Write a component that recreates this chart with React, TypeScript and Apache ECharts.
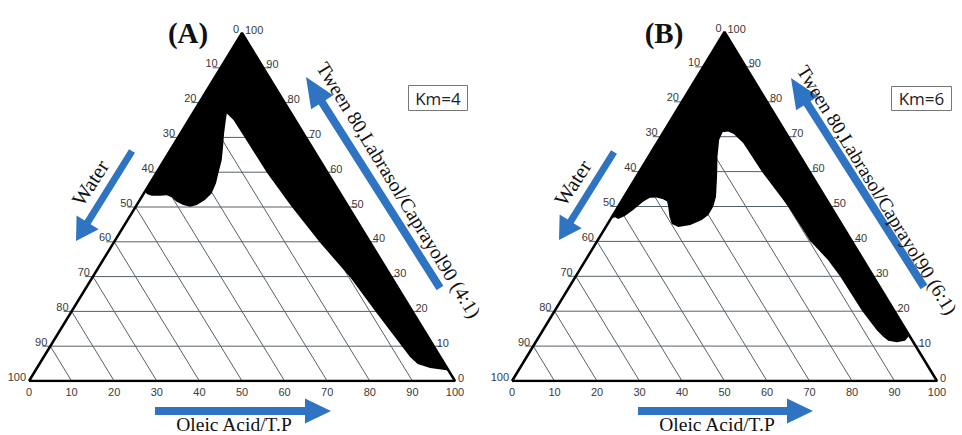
import React, { useEffect, useRef } from "react";
import * as echarts from "echarts";

// Ternary axis ticks (percent)
const ticks = [0, 10, 20, 30, 40, 50, 60, 70, 80, 90, 100];
const innerTicks = [10, 20, 30, 40, 50, 60, 70, 80, 90];

// Triangle corners as [oleic %, Smix %] (water = 100 - oleic - Smix)
const corners: [number, number][] = [[0, 0], [100, 0], [0, 100], [0, 0]];

// Nanoemulsion (black) region boundary, [oleic %, Smix %], Km = 4
const regionA: [number, number][] = [
  [0, 100], [97, 3], [95.6, 3.2], [92.3, 3.7], [88.8, 4.9], [86.0, 6.9], [83.1, 9.5],
  [71.2, 20.1], [60.4, 29.9], [48.5, 39.7], [36.7, 50.0], [26.0, 59.8], [15.8, 69.8],
  [10.5, 75.0], [8.0, 76.9], [8.7, 75.0], [10.2, 71.2], [11.9, 67.3], [13.5, 63.5],
  [14.6, 59.7], [15.5, 56.8], [15.9, 53.9], [15.3, 52.0], [14.1, 50.6], [12.8, 50.1],
  [10.9, 50.6], [8.9, 51.5], [7.1, 52.8], [5.6, 53.4], [4.2, 53.2], [2.2, 53.2],
  [0.8, 53.7], [0, 54.5],
];

// Nanoemulsion (black) region boundary, [oleic %, Smix %], Km = 6
const regionB: [number, number][] = [
  [0, 100], [87, 13], [86.7, 11.5], [85.0, 11.1], [82.8, 11.5], [81.0, 12.7], [78.5, 14.6],
  [72.3, 20.1], [62.1, 30.1], [57.0, 34.7], [50.1, 40.1], [39.9, 50.1], [28.9, 59.9],
  [20.3, 68.2], [16.8, 70.8], [15.1, 71.5], [13.9, 71.3], [14.2, 69.1], [16.2, 64.3],
  [19.0, 58.5], [21.6, 52.8], [22.4, 49.9], [22.4, 47.6], [21.6, 46.1], [19.6, 44.7],
  [17.1, 44.1], [15.1, 45.0], [13.5, 47.1], [11.8, 49.9], [10.8, 51.4], [9.5, 52.1],
  [7.7, 52.6], [6.2, 52.5], [5.2, 51.4], [4.0, 49.0], [2.9, 47.3], [1.8, 46.4],
  [0.8, 46.9], [0, 46.5],
];

const panelTitles = ["(A)", "(B)"];
const kmLabels = ["Km=4", "Km=6"];
const smixNames = ["Tween 80,Labrasol/Caprayol90 (4:1)", "Tween 80,Labrasol/Caprayol90 (6:1)"];
const waterName = "Water";
const oilName = "Oleic Acid/T.P";

const toXY = (o: number, s: number) => [o + s / 2, s];

const BLUE = "#2e74c3";
const GRID_COLOR = "#56606b";
const LABEL_COLOR = "#3a3a3a";
const TICK_FONT = "11px 'Liberation Sans', Arial, sans-serif";
const SERIF = "'Liberation Serif', 'Times New Roman', serif";

function arrow(x1: number, y1: number, x2: number, y2: number, sw: number, hl: number, hw: number) {
  const dx = x2 - x1, dy = y2 - y1;
  const len = Math.hypot(dx, dy);
  const ux = dx / len, uy = dy / len;
  const nx = -uy, ny = ux;
  const bx = x2 - ux * hl, by = y2 - uy * hl;
  return {
    type: "polygon",
    shape: {
      points: [
        [x1 + (nx * sw) / 2, y1 + (ny * sw) / 2],
        [bx + (nx * sw) / 2, by + (ny * sw) / 2],
        [bx + (nx * hw) / 2, by + (ny * hw) / 2],
        [x2, y2],
        [bx - (nx * hw) / 2, by - (ny * hw) / 2],
        [bx - (nx * sw) / 2, by - (ny * sw) / 2],
        [x1 - (nx * sw) / 2, y1 - (ny * sw) / 2],
      ],
    },
    style: { fill: BLUE },
    z: 10,
  };
}

function text(t: string, x: number, y: number, font: string, rotationDeg = 0, fill = "#111") {
  return {
    type: "text",
    x,
    y,
    rotation: (rotationDeg * Math.PI) / 180,
    style: {
      text: t,
      font,
      fill,
      align: "center",
      verticalAlign: "middle",
      textAlign: "center",
      textVerticalAlign: "middle",
    },
    z: 11,
  };
}

function panelSeries(i: number, region: [number, number][]) {
  const regionXY = region.map((p) => toXY(p[0], p[1]));
  return [
    {
      type: "custom",
      xAxisIndex: i,
      yAxisIndex: i,
      z: 1,
      silent: true,
      itemStyle: { color: GRID_COLOR },
      data: innerTicks.map((v) => [v, v]),
      renderItem: (params: any, api: any) => {
        const v = api.value(0);
        const L = api.coord(toXY(0, v));
        const R = api.coord(toXY(100 - v, v));
        const B = api.coord(toXY(100 - v, 0));
        const T = api.coord(toXY(0, 100 - v));
        return {
          type: "group",
          children: [
            { type: "line", shape: { x1: L[0] - 8, y1: L[1], x2: R[0] + 8, y2: R[1] }, style: { stroke: GRID_COLOR, lineWidth: 1 } },
            { type: "line", shape: { x1: B[0], y1: B[1], x2: T[0], y2: T[1] }, style: { stroke: GRID_COLOR, lineWidth: 1 } },
          ],
        };
      },
    },
    {
      type: "custom",
      xAxisIndex: i,
      yAxisIndex: i,
      z: 2,
      silent: true,
      itemStyle: { color: "#000" },
      data: regionXY,
      renderItem: (params: any, api: any) => {
        if (params.dataIndex !== 0) return null;
        const pts = regionXY.map((p) => api.coord(p));
        return { type: "polygon", shape: { points: pts }, style: { fill: "#000" } };
      },
    },
    {
      type: "line",
      xAxisIndex: i,
      yAxisIndex: i,
      z: 3,
      silent: true,
      symbol: "none",
      data: corners.map((c) => toXY(c[0], c[1])),
      lineStyle: { color: "#000", width: 2.5 },
      itemStyle: { color: "#000" },
    },
    {
      type: "custom",
      xAxisIndex: i,
      yAxisIndex: i,
      z: 4,
      silent: true,
      itemStyle: { color: LABEL_COLOR },
      data: ticks.map((v) => [v, v]),
      renderItem: (params: any, api: any) => {
        const v = api.value(0);
        const Lp = api.coord(toXY(0, 100 - v));
        const Bp = api.coord(toXY(v, 0));
        const Rp = api.coord(toXY(100 - v, v));
        const mk = (x: number, y: number, align: string, va: string) => ({
          type: "text",
          x,
          y,
          style: {
            text: String(v),
            font: TICK_FONT,
            fill: LABEL_COLOR,
            align,
            verticalAlign: va,
            textAlign: align,
            textVerticalAlign: va,
          },
        });
        return {
          type: "group",
          children: [
            mk(Lp[0] - 3, Lp[1] + 1, "right", "bottom"),
            mk(Bp[0], Bp[1] + 5, "center", "top"),
            mk(Rp[0] + 3, Rp[1] + 2, "left", "bottom"),
          ],
        };
      },
    },
  ];
}

export default function App() {
  const ref = useRef<HTMLDivElement>(null);
  useEffect(() => {
    if (!ref.current) return;
    const chart = echarts.init(ref.current, undefined, { renderer: "svg" });
    const axisBase = { type: "value", min: 0, max: 100, show: false };
    const option: any = {
      animation: false,
      backgroundColor: "#ffffff",
      color: [LABEL_COLOR],
      grid: [
        { left: 29, top: 33, width: 426, height: 348 },
        { left: 512, top: 32, width: 425, height: 349 },
      ],
      xAxis: [{ ...axisBase, gridIndex: 0 }, { ...axisBase, gridIndex: 1 }],
      yAxis: [{ ...axisBase, gridIndex: 0 }, { ...axisBase, gridIndex: 1 }],
      series: [...panelSeries(0, regionA), ...panelSeries(1, regionB)],
      graphic: [
        text(panelTitles[0], 188, 33, `bold 29px ${SERIF}`),
        text(panelTitles[1], 664, 33, `bold 29px ${SERIF}`),
        { type: "rect", shape: { x: 408.5, y: 85.5, width: 59, height: 25 }, style: { fill: "#fff", stroke: "#777", lineWidth: 1 }, z: 10 },
        text(kmLabels[0], 438, 98, "17px 'Open Sans', 'Liberation Sans', sans-serif", 0, "#222"),
        { type: "rect", shape: { x: 891.5, y: 86.5, width: 60, height: 24 }, style: { fill: "#fff", stroke: "#777", lineWidth: 1 }, z: 10 },
        text(kmLabels[1], 921.5, 98.5, "17px 'Open Sans', 'Liberation Sans', sans-serif", 0, "#222"),
        arrow(132, 151, 76, 241, 7, 22, 26),
        arrow(440, 288, 306, 77, 8, 30, 26),
        arrow(155, 411, 331, 411, 8, 26, 25),
        arrow(614, 152, 559, 240, 7, 22, 26),
        arrow(924, 287, 791, 78, 8, 30, 26),
        arrow(638, 411, 813, 411, 8, 26, 25),
        text(waterName, 90.5, 183, `21px ${SERIF}`, 57),
        text(waterName, 573, 183, `21px ${SERIF}`, 57),
        text(smixNames[0], 399, 190, `20px ${SERIF}`, -58.5),
        text(smixNames[1], 877, 190, `19.5px ${SERIF}`, -58.5),
        text(oilName, 234, 424, `19.5px ${SERIF}`),
        text(oilName, 717, 424, `19.5px ${SERIF}`),
      ],
    };
    chart.setOption(option);
    return () => chart.dispose();
  }, []);
  return (
    <div
      ref={ref}
      style={{ position: "fixed", left: 0, top: 0, width: 962, height: 435, background: "#fff" }}
    />
  );
}
